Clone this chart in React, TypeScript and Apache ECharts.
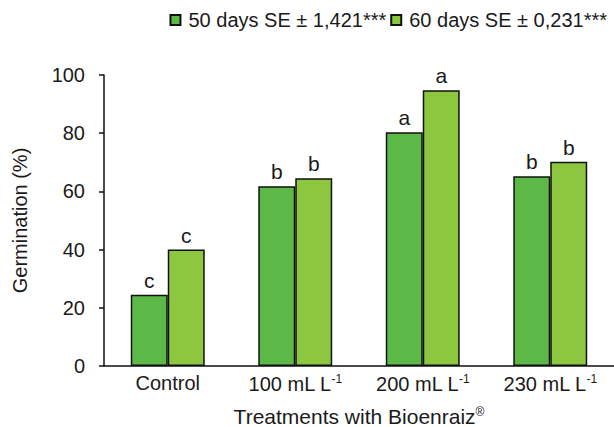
import React, { useEffect, useRef } from "react";
import * as echarts from "echarts";

const categories = ["Control", "100 mL L", "200 mL L", "230 mL L"];
const categorySup = ["", "-1", "-1", "-1"];
const days50 = [24.5, 61.8, 80.3, 65.2];
const days60 = [40.0, 64.5, 94.8, 70.2];
const letters50 = ["c", "b", "a", "b"];
const letters60 = ["c", "b", "a", "b"];
const legendNames = ["50 days SE ± 1,421***", "60 days SE ± 0,231***"];
const yTicks = { min: 0, max: 100, interval: 20 };

const FONT = "'Liberation Sans', Arial, sans-serif";

export default function App() {
  const ref = useRef<HTMLDivElement>(null);
  useEffect(() => {
    if (!ref.current) return;
    const chart = echarts.init(ref.current, null, { renderer: "svg" });
    const labelStyle = {
      show: true,
      position: "top" as const,
      distance: 4,
      color: "#1a1a1a",
      fontSize: 21,
      fontFamily: FONT,
    };
    chart.setOption({
      animation: false,
      backgroundColor: "#fff",
      textStyle: { fontFamily: FONT },
      legend: {
        right: 2,
        top: 5,
        itemWidth: 10,
        itemHeight: 10,
        itemGap: 4,
        icon: "rect",
        textStyle: { fontSize: 20, color: "#1a1a1a", fontFamily: FONT, padding: [0, 0, 0, 3] },
        data: legendNames,
      },
      grid: { left: 104, right: 0, top: 75, bottom: 61, outerBoundsMode: "none" },
      xAxis: {
        type: "category",
        data: categories,
        axisLine: { lineStyle: { color: "#111", width: 1.5 } },
        axisTick: { show: false },
        axisLabel: {
          interval: 0,
          margin: 7,
          color: "#1a1a1a",
          fontSize: 20,
          fontFamily: FONT,
          formatter: (v: string, i: number) =>
            categorySup[i] ? `{n|${v}}{s|${categorySup[i]}}` : `{n|${v}}`,
          rich: {
            n: { fontSize: 20, color: "#1a1a1a", fontFamily: FONT },
            s: { fontSize: 12, color: "#1a1a1a", fontFamily: FONT, verticalAlign: "top", padding: [0, 0, 9, 0] },
          },
        },
        name: "{n|Treatments with Bioenraiz}{s|®}",
        nameLocation: "middle",
        nameGap: 40,
        nameTextStyle: {
          rich: {
            n: { fontSize: 21, color: "#1a1a1a", fontFamily: FONT },
            s: { fontSize: 12, color: "#1a1a1a", fontFamily: FONT, padding: [0, 0, 9, 0] },
          },
        },
      },
      yAxis: {
        type: "value",
        min: yTicks.min,
        max: yTicks.max,
        interval: yTicks.interval,
        splitLine: { show: false },
        axisLine: { show: true, lineStyle: { color: "#111", width: 1.5 } },
        axisTick: { show: true, length: 5, lineStyle: { color: "#111", width: 1.5 } },
        axisLabel: { color: "#1a1a1a", fontSize: 20, fontFamily: FONT, margin: 19 },
        name: "Germination (%)",
        nameLocation: "middle",
        nameGap: 74,
        nameTextStyle: { fontSize: 20, color: "#1a1a1a", fontFamily: FONT },
      },
      series: [
        {
          name: legendNames[0],
          type: "bar",
          data: days50,
          barGap: "0%",
          barCategoryGap: "42%",
          itemStyle: { color: "#5cb947", borderColor: "#111", borderWidth: 1.5 },
          label: { ...labelStyle, formatter: (p: any) => letters50[p.dataIndex] },
        },
        {
          name: legendNames[1],
          type: "bar",
          data: days60,
          itemStyle: { color: "#8dc63f", borderColor: "#111", borderWidth: 1.5 },
          label: { ...labelStyle, formatter: (p: any) => letters60[p.dataIndex] },
        },
      ],
    });
    return () => chart.dispose();
  }, []);
  return <div ref={ref} style={{ width: 614, height: 427, position: "fixed", left: 0, top: 0 }} />;
}
